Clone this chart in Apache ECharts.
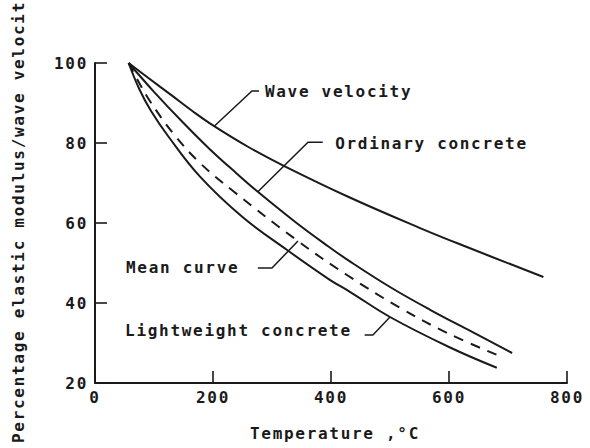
<!DOCTYPE html>
<html>
<head>
<meta charset="utf-8">
<script src="https://cdn.jsdelivr.net/npm/echarts/dist/echarts.min.js"></script>
<style>
  html, body { margin: 0; padding: 0; background: #ffffff; }
  #chart { width: 590px; height: 448px; }
  /* Lettering is spaced out like stencil lettering */
  #chart text { letter-spacing: 1.7px; }
</style>
</head>
<body>
<div id="chart"></div>
<script>
// Temperature (°C) vs percentage of room-temperature value
const waveVelocity = [[57,100],[90,96.3],[130,91.9],[165,88],[200,84.4],[260,79],[320,74.3],[430,66.5],[550,58.8],[625,54.3],[760,46.5]];
const ordinaryConcrete = [[57,100],[100,92.8],[150,85],[195,78.4],[240,72.4],[276,67.8],[340,60.2],[395,54.2],[432,50.4],[500,44],[568,38.3],[640,32.7],[707,27.5]];
const meanCurve = [[57,100],[75,95],[93,90.5],[132,82.5],[178,75],[234,68],[342,55.7],[427,47],[517,38.8],[600,32.3],[690,26.5]];
const lightweightConcrete = [[57,100],[75,93.5],[95,88],[125,81.5],[178,71.6],[250,61.5],[325,53.3],[398,45.8],[432,42.8],[500,36.5],[600,29],[681,23.8]];

const xTicks = [0, 200, 400, 600, 800];
const yTicks = [20, 40, 60, 80, 100];

// Curve labels with their leader lines, in data units
const labelText = ['Wave velocity', 'Ordinary concrete', 'Mean curve', 'Lightweight concrete'];
const labelAnchor = [[288, 93], [407, 80], [52.5, 49], [51, 33.25]];
const leaderPath = [
  [[278, 93], [266, 93], [202, 84.2]],
  [[386, 80.2], [361, 80.2], [276, 67.8]],
  [[276, 48.75], [300, 48.75], [344, 55.5]],
  [[457, 32], [471, 32], [500, 36.5]]
];

const INK = '#1a1a1a';
const FONT = '"DejaVu Sans Mono", monospace';

const chart = echarts.init(document.getElementById('chart'), null, { renderer: 'svg' });

const axisCommon = {
  type: 'value',
  axisLine: { show: true, lineStyle: { color: INK, width: 2 } },
  axisTick: { show: true, inside: true, length: 12, lineStyle: { color: INK, width: 1.6 } },
  axisLabel: { color: INK, fontFamily: FONT, fontSize: 16, fontWeight: 'bold' },
  splitLine: { show: false }
};

function curve(name, data, dashed) {
  return {
    name, type: 'line', data,
    showSymbol: false, smooth: 0.4,
    lineStyle: { color: INK, width: 2, type: dashed ? [10, 8] : 'solid' },
    z: 3
  };
}

chart.setOption({
  animation: false,
  backgroundColor: '#ffffff',
  grid: { left: 95, right: 23, top: 63, bottom: 65 },
  xAxis: Object.assign({}, axisCommon, {
    min: xTicks[0], max: xTicks[xTicks.length - 1], interval: xTicks[1] - xTicks[0],
    axisLabel: Object.assign({}, axisCommon.axisLabel, { margin: 6 })
  }),
  yAxis: Object.assign({}, axisCommon, {
    min: yTicks[0], max: yTicks[yTicks.length - 1], interval: yTicks[1] - yTicks[0],
    axisLabel: Object.assign({}, axisCommon.axisLabel, { margin: 7 })
  }),
  series: [
    curve('Wave velocity', waveVelocity, false),
    curve('Ordinary concrete', ordinaryConcrete, false),
    curve('Mean curve', meanCurve, true),
    curve('Lightweight concrete', lightweightConcrete, false)
  ]
});

const px = p => chart.convertToPixel({ gridIndex: 0 }, p);
const textFont = 'bold 16px ' + FONT;
const graphics = [];

labelText.forEach((t, i) => {
  const a = px(labelAnchor[i]);
  graphics.push({
    type: 'text', x: a[0], y: a[1], z: 10,
    style: { text: t, font: textFont, fill: INK, textAlign: 'left', textVerticalAlign: 'middle' }
  });
  graphics.push({
    type: 'polyline', z: 9,
    shape: { points: leaderPath[i].map(px) },
    style: { stroke: INK, lineWidth: 1.5, fill: null }
  });
});

// Axis titles
graphics.push({
  type: 'text', x: 18, y: 443, rotation: Math.PI / 2, z: 10,
  style: { text: 'Percentage elastic modulus/wave velocit', font: textFont, fill: INK, textAlign: 'left', textVerticalAlign: 'middle' }
});
graphics.push({
  type: 'text', x: 335, y: 433, z: 10,
  style: { text: 'Temperature ,°C', font: textFont, fill: INK, textAlign: 'center', textVerticalAlign: 'middle' }
});

chart.setOption({ graphic: graphics });
</script>
</body>
</html>
